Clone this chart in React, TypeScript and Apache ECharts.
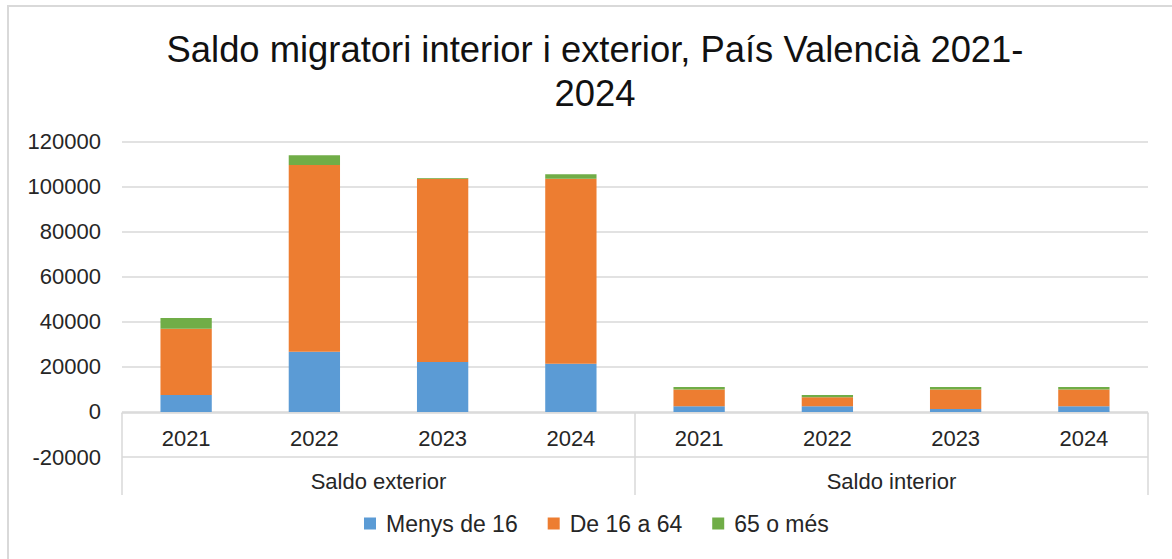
import React, { useEffect, useRef } from "react";
import * as echarts from "echarts";

const years = ["2021", "2022", "2023", "2024", "2021", "2022", "2023", "2024"];
const groups = ["Saldo exterior", "Saldo interior"];
const menys16 = [7500, 26700, 22200, 21400, 2500, 2500, 1300, 2500];
const de16a64 = [29400, 83000, 81400, 82200, 7500, 4000, 8700, 7500];
const mes65 = [4800, 4300, 300, 1900, 1100, 1000, 1100, 1100];
const yTicks = { min: -20000, max: 120000, interval: 20000 };
const titleText = "Saldo migratori interior i exterior, País Valencià 2021-\n2024";

const FONT = "Liberation Sans, Arial, sans-serif";

export default function App() {
  const ref = useRef<HTMLDivElement>(null);
  useEffect(() => {
    if (!ref.current) return;
    const chart = echarts.init(ref.current, null, { renderer: "svg" });
    const mk = (name: string, data: number[], color: string) => ({
      name,
      type: "bar",
      stack: "total",
      data,
      barWidth: "40%",
      itemStyle: { color },
      xAxisIndex: 0,
    });
    chart.setOption({
      animation: false,
      backgroundColor: "#fff",
      textStyle: { fontFamily: FONT },
      title: {
        text: titleText,
        left: 590,
        top: 22,
        textAlign: "center",
        textStyle: {
          fontFamily: FONT,
          fontSize: 36.4,
          fontWeight: "normal",
          color: "#111",
          lineHeight: 44,
        },
      },
      graphic: [
        {
          type: "rect",
          shape: { x: 8, y: 6, width: 2000, height: 2000 },
          style: { fill: "none", stroke: "#d9d9d9", lineWidth: 2 },
          silent: true,
        },
      ],
      legend: {
        bottom: 19,
        left: 359,
        itemWidth: 12,
        itemHeight: 12,
        itemGap: 30,
        icon: "rect",
        textStyle: { fontFamily: FONT, fontSize: 23, color: "#262626", padding: [0, 0, 0, 5] },
        data: ["Menys de 16", "De 16 a 64", "65 o més"],
      },
      grid: { left: 122, right: 24, top: 141.7, bottom: 102, containLabel: false },
      xAxis: [
        {
          type: "category",
          data: years,
          position: "bottom",
          offset: -44,
          axisLine: { show: true, onZero: false, lineStyle: { color: "#d9d9d9", width: 1.5 } },
          axisTick: { show: false },
          axisLabel: { fontFamily: FONT, fontSize: 22, color: "#262626", margin: 14 },
        },
        {
          type: "category",
          data: groups,
          position: "bottom",
          offset: -44,
          axisLine: { show: false, onZero: false },
          axisTick: { show: true, length: 82, lineStyle: { color: "#d9d9d9", width: 1.5 } },
          axisLabel: { fontFamily: FONT, fontSize: 22, color: "#262626", margin: 57 },
        },
      ],
      yAxis: {
        type: "value",
        min: yTicks.min,
        max: yTicks.max,
        interval: yTicks.interval,
        axisLine: { show: false },
        axisTick: { show: false },
        axisLabel: {
          fontFamily: FONT,
          fontSize: 22,
          color: "#262626",
          margin: 21,
          formatter: (v: number) => String(v),
        },
        splitLine: { show: true, lineStyle: { color: "#d9d9d9", width: 1.5 } },
      },
      series: [
        mk("Menys de 16", menys16, "#5b9bd5"),
        mk("De 16 a 64", de16a64, "#ed7d31"),
        mk("65 o més", mes65, "#70ad47"),
      ],
    });
    return () => chart.dispose();
  }, []);
  return (
    <div
      ref={ref}
      style={{ position: "fixed", left: 0, top: 0, width: 1172, height: 559 }}
    />
  );
}
